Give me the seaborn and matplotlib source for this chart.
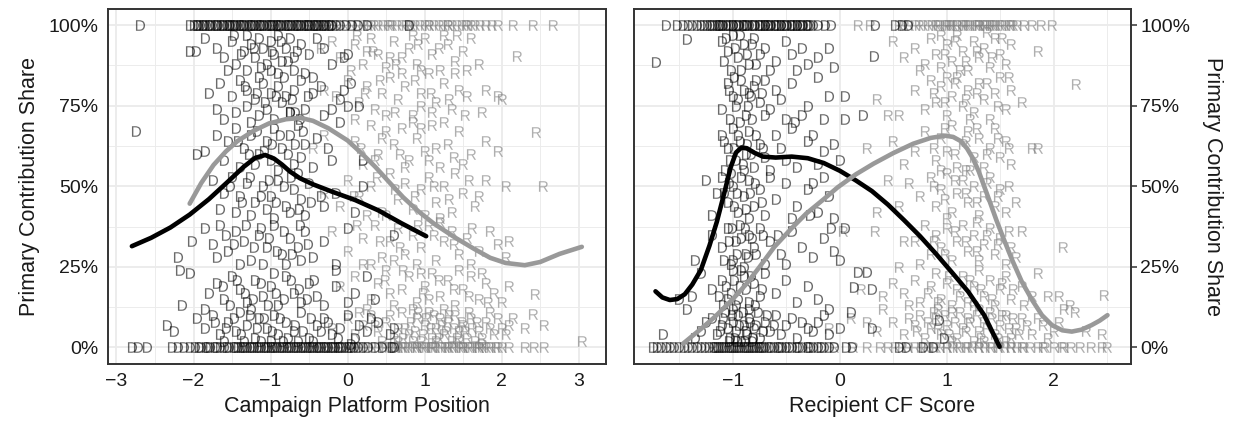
import matplotlib
matplotlib.use("Agg")
import matplotlib.pyplot as plt
import pandas as pd
import seaborn as sns
from matplotlib.ticker import PercentFormatter, MultipleLocator

sns.set_theme(style="white")
plt.rcParams["font.family"] = ["Liberation Sans", "DejaVu Sans"]
plt.rcParams["mathtext.fontset"] = "custom"
plt.rcParams["mathtext.rm"] = "Liberation Sans"

# ---------------- Campaign platform position panel ----------------
# Democrats: interior shares (x, share)
platform_dem_pts = [
    (-1.85, 0.96), (-1.7, 0.93), (-1.6, 0.90), (-1.5, 0.95), (-1.45, 0.88), (-1.35, 0.92), (-1.3, 0.97),
    (-1.25, 0.94), (-1.2, 0.90), (-1.15, 0.96), (-1.1, 0.93), (-1.05, 0.88), (-1.0, 0.95), (-0.95, 0.91),
    (-0.9, 0.97), (-0.85, 0.89), (-0.8, 0.93), (-0.75, 0.96), (-0.7, 0.90), (-0.6, 0.94), (-0.5, 0.91),
    (-0.4, 0.96), (-0.3, 0.93), (-0.2, 0.88), (-0.05, 0.90), (0.0, 0.91), (-2.05, 0.92), (-1.97, 0.92),
    (-1.55, 0.86), (-1.0, 0.86), (-0.9, 0.85), (-0.7, 0.86), (-1.3, 0.86), (-1.15, 0.84), (-0.55, 0.85),
    (-0.45, 0.84),
    (-1.8, 0.79), (-1.65, 0.82), (-1.5, 0.78), (-1.4, 0.83), (-1.3, 0.80), (-1.2, 0.77), (-1.1, 0.82),
    (-1.0, 0.79), (-0.9, 0.81), (-0.8, 0.78), (-0.7, 0.80), (-0.6, 0.83), (-0.45, 0.79), (-0.35, 0.81),
    (-0.05, 0.80), (0.05, 0.82), (-1.7, 0.74), (-1.6, 0.71), (-1.45, 0.73), (-1.3, 0.75), (-1.15, 0.72),
    (-1.05, 0.74), (-0.95, 0.71), (-0.85, 0.76), (-0.75, 0.73), (-0.55, 0.74), (-0.3, 0.72), (-0.2, 0.74),
    (0.0, 0.75), (0.15, 0.75), (-0.1, 0.77), (-1.25, 0.70),
    (-2.75, 0.67), (-1.7, 0.66), (-1.55, 0.64), (-1.45, 0.68), (-1.35, 0.62), (-1.25, 0.66), (-1.15, 0.60),
    (-1.05, 0.64), (-0.95, 0.68), (-0.85, 0.62), (-0.75, 0.66), (-0.65, 0.69), (-0.55, 0.63), (-0.4, 0.65),
    (-0.25, 0.62), (-0.1, 0.70), (-1.95, 0.60), (-1.85, 0.61), (-1.6, 0.58), (-1.4, 0.56), (-1.2, 0.57),
    (-1.0, 0.58), (-0.9, 0.55), (-0.7, 0.57), (-0.6, 0.59), (-0.45, 0.56), (-0.2, 0.58), (0.2, 0.58),
    (-0.75, 0.73), (-0.68, 0.73),
    (-1.75, 0.52), (-1.6, 0.48), (-1.5, 0.53), (-1.4, 0.47), (-1.3, 0.51), (-1.2, 0.45), (-1.1, 0.50),
    (-1.0, 0.47), (-0.9, 0.52), (-0.8, 0.44), (-0.7, 0.49), (-0.6, 0.46), (-0.5, 0.51), (-0.35, 0.47),
    (-0.15, 0.48), (0.2, 0.50), (-1.45, 0.42), (-1.25, 0.41), (-1.05, 0.43), (-0.95, 0.40), (-0.75, 0.42),
    (-0.55, 0.41), (-0.3, 0.44), (0.1, 0.42), (-1.65, 0.43), (-0.65, 0.54),
    (-2.02, 0.33), (-1.85, 0.37), (-1.75, 0.32), (-1.65, 0.38), (-1.55, 0.30), (-1.45, 0.36), (-1.35, 0.33),
    (-1.25, 0.27), (-1.15, 0.35), (-1.05, 0.31), (-0.95, 0.38), (-0.85, 0.29), (-0.75, 0.34), (-0.65, 0.31),
    (-0.55, 0.36), (-0.45, 0.28), (-0.3, 0.33), (-0.15, 0.26), (0.0, 0.37), (0.6, 0.35), (-2.2, 0.28),
    (-1.7, 0.28), (-1.1, 0.26), (-0.8, 0.26), (-0.6, 0.27), (-1.4, 0.26),
    (-2.17, 0.24), (-2.04, 0.23), (-1.8, 0.17), (-1.7, 0.20), (-1.6, 0.15), (-1.5, 0.22), (-1.4, 0.18),
    (-1.3, 0.14), (-1.2, 0.21), (-1.1, 0.16), (-1.0, 0.19), (-0.9, 0.13), (-0.8, 0.22), (-0.7, 0.17),
    (-0.6, 0.14), (-0.5, 0.20), (-0.4, 0.16), (-0.3, 0.13), (-0.15, 0.19), (0.0, 0.14), (0.25, 0.22),
    (0.35, 0.15), (-2.15, 0.13), (-1.85, 0.12), (-1.25, 0.12), (-0.95, 0.23), (-0.15, 0.24), (0.1, 0.17),
    (-2.35, 0.07), (-2.25, 0.05), (-1.95, 0.09), (-1.85, 0.06), (-1.75, 0.10), (-1.65, 0.04), (-1.55, 0.08),
    (-1.45, 0.05), (-1.4, 0.11), (-1.3, 0.07), (-1.2, 0.03), (-1.15, 0.09), (-1.05, 0.06), (-0.95, 0.10),
    (-0.9, 0.04), (-0.8, 0.08), (-0.7, 0.05), (-0.6, 0.11), (-0.5, 0.03), (-0.4, 0.07), (-0.3, 0.09),
    (-0.2, 0.04), (-0.1, 0.06), (0.0, 0.10), (0.1, 0.03), (0.25, 0.05), (0.4, 0.08), (0.55, 0.04),
    (0.6, 0.06), (-1.0, 0.02), (-0.65, 0.02), (-1.6, 0.02), (0.05, 0.01),
]
platform_dem_pts_core = [
    (-1.48, 0.97), (-1.38, 0.91), (-1.22, 0.93), (-1.12, 0.87), (-0.98, 0.92), (-0.87, 0.95), (-0.78, 0.89),
    (-0.66, 0.92), (-1.33, 0.81), (-1.18, 0.79), (-1.07, 0.76), (-0.93, 0.78), (-0.83, 0.84), (-0.72, 0.77),
    (-0.62, 0.71), (-0.52, 0.78), (-1.42, 0.64), (-1.28, 0.60), (-1.17, 0.67), (-1.08, 0.61), (-0.98, 0.63),
    (-0.88, 0.66), (-0.78, 0.60), (-0.68, 0.63), (-0.58, 0.67), (-1.52, 0.50), (-1.37, 0.45), (-1.27, 0.53),
    (-1.13, 0.47), (-1.02, 0.52), (-0.93, 0.45), (-0.83, 0.50), (-0.73, 0.53), (-0.63, 0.43), (-0.48, 0.45),
    (-1.58, 0.35), (-1.48, 0.32), (-1.32, 0.38), (-1.22, 0.31), (-1.12, 0.37), (-1.02, 0.34), (-0.92, 0.30),
    (-0.82, 0.36), (-0.72, 0.29), (-0.62, 0.38), (-0.52, 0.32), (-1.62, 0.19), (-1.52, 0.13), (-1.43, 0.21),
    (-1.33, 0.17), (-1.23, 0.15), (-1.13, 0.20), (-1.03, 0.13), (-0.93, 0.17), (-0.83, 0.15), (-0.73, 0.21),
    (-0.63, 0.18), (-0.53, 0.15), (-0.43, 0.21), (-1.72, 0.08), (-1.58, 0.06), (-1.48, 0.09), (-1.38, 0.04),
    (-1.27, 0.10), (-1.18, 0.06), (-1.08, 0.09), (-0.98, 0.05), (-0.88, 0.09), (-0.78, 0.03), (-0.68, 0.07),
    (-0.58, 0.05), (-0.48, 0.09), (-0.35, 0.05), (-0.25, 0.08), (-0.12, 0.03), (0.15, 0.07), (0.3, 0.09),
    (-1.12, 0.02), (-0.84, 0.02), (-1.35, 0.02), (-0.45, 0.02),
]
# Democrats with all-primary (100%) and no-primary (0%) shares
platform_dem_full = [-2.7, -2.05, -2.0, -1.96, -1.92, -1.88, -1.84, -1.8, -1.76, -1.72, -1.68, -1.64, -1.6,
                     -1.56, -1.52, -1.48, -1.44, -1.4, -1.36, -1.32, -1.28, -1.24, -1.2, -1.16, -1.12, -1.08,
                     -1.04, -1.0, -0.96, -0.92, -0.88, -0.84, -0.8, -0.76, -0.72, -0.68, -0.64, -0.6, -0.56,
                     -0.52, -0.48, -0.44, -0.4, -0.36, -0.32, -0.28, -0.24, -0.2, -0.15, -0.1, -0.02, 0.06,
                     0.14, 0.25, 0.8, -1.5, -1.38, -1.26, -1.14, -1.02, -0.9, -0.78, -0.66, -0.54, -0.42,
                     -1.94, -1.86, -1.78, -1.7, -1.62, -1.54, -1.46, -1.34, -1.22, -1.1, -0.98, -0.86, -0.74,
                     -0.62, -0.5, -0.38, -0.3, -0.22]
platform_dem_none = [-2.8, -2.72, -2.6, -2.28, -2.2, -2.12, -2.05, -1.98, -1.9, -1.84, -1.78, -1.72, -1.66,
                     -1.6, -1.54, -1.48, -1.42, -1.36, -1.3, -1.24, -1.18, -1.12, -1.06, -1.0, -0.94, -0.88,
                     -0.82, -0.76, -0.7, -0.64, -0.58, -0.52, -0.46, -0.4, -0.34, -0.28, -0.22, -0.16, -0.1,
                     -0.04, 0.02, 0.08, 0.14, 0.2, 0.27, 0.35, 0.45, 0.6, 0.58, -1.45, -1.33, -1.21, -1.09,
                     -0.97, -0.85, -0.73, -0.61, -0.49, -0.37, -0.25, -0.13, -1.93, -1.81, -1.69, -1.57,
                     -1.39, -1.27, -1.15, -1.03, -0.91, -0.79, -0.67, -0.55, -0.43, -0.31, -0.19, -0.07, 0.05]

# Republicans: interior shares (x, share)
platform_rep_pts = [
    (-0.35, 0.93), (-0.2, 0.95), (-0.1, 0.90), (0.1, 0.94), (0.2, 0.88), (0.3, 0.96), (0.4, 0.91),
    (0.5, 0.87), (0.6, 0.95), (0.7, 0.90), (0.8, 0.93), (0.9, 0.88), (1.0, 0.96), (1.1, 0.91), (1.2, 0.86),
    (1.3, 0.94), (1.4, 0.89), (1.5, 0.92), (1.6, 0.96), (1.7, 0.88), (0.25, 0.92), (0.55, 0.90),
    (0.95, 0.86), (1.25, 0.97), (2.2, 0.905), (1.55, 0.86), (0.05, 0.86), (0.85, 0.97),
    (-0.3, 0.80), (-0.15, 0.78), (0.0, 0.83), (0.15, 0.76), (0.25, 0.81), (0.35, 0.74), (0.45, 0.79),
    (0.55, 0.84), (0.65, 0.77), (0.75, 0.81), (0.85, 0.72), (0.95, 0.79), (1.05, 0.85), (1.15, 0.76),
    (1.25, 0.82), (1.35, 0.74), (1.45, 0.80), (1.55, 0.78), (1.75, 0.73), (1.95, 0.78), (2.0, 0.77),
    (1.8, 0.80), (0.1, 0.71), (0.5, 0.72), (1.1, 0.73), (0.7, 0.85), (1.4, 0.85), (0.95, 0.75),
    (-0.45, 0.62), (-0.3, 0.66), (0.1, 0.64), (0.3, 0.69), (0.4, 0.60), (0.5, 0.67), (0.6, 0.63),
    (0.7, 0.68), (0.8, 0.58), (0.9, 0.65), (1.0, 0.61), (1.1, 0.69), (1.2, 0.56), (1.3, 0.63), (1.45, 0.67),
    (1.6, 0.60), (1.8, 0.64), (2.45, 0.667), (1.95, 0.61), (0.2, 0.57), (0.75, 0.56), (1.05, 0.58),
    (1.5, 0.57), (0.85, 0.70), (1.25, 0.70), (0.35, 0.58),
    (-0.3, 0.48), (-0.1, 0.44), (0.0, 0.52), (0.15, 0.47), (0.3, 0.50), (0.45, 0.42), (0.55, 0.54),
    (0.65, 0.46), (0.75, 0.51), (0.85, 0.43), (0.95, 0.49), (1.05, 0.53), (1.15, 0.45), (1.25, 0.50),
    (1.35, 0.42), (1.5, 0.48), (1.65, 0.44), (1.8, 0.52), (2.05, 0.50), (2.53, 0.50), (1.7, 0.47),
    (0.5, 0.41), (1.0, 0.41), (1.4, 0.54), (0.25, 0.41), (1.2, 0.40),
    (-0.2, 0.36), (0.0, 0.30), (0.2, 0.34), (0.35, 0.38), (0.45, 0.28), (0.55, 0.33), (0.65, 0.37),
    (0.75, 0.29), (0.85, 0.35), (0.95, 0.31), (1.05, 0.38), (1.15, 0.27), (1.25, 0.33), (1.35, 0.36),
    (1.45, 0.29), (1.55, 0.34), (1.7, 0.30), (1.85, 0.36), (1.95, 0.32), (2.05, 0.28), (2.1, 0.33),
    (1.6, 0.26), (0.3, 0.26), (0.9, 0.26), (1.2, 0.39), (0.6, 0.27),
    (-0.1, 0.19), (0.1, 0.22), (0.3, 0.15), (0.4, 0.20), (0.5, 0.24), (0.6, 0.13), (0.7, 0.18), (0.8, 0.22),
    (0.9, 0.14), (1.0, 0.19), (1.1, 0.23), (1.2, 0.16), (1.3, 0.21), (1.4, 0.13), (1.5, 0.18), (1.6, 0.22),
    (1.7, 0.15), (1.8, 0.20), (1.9, 0.17), (2.0, 0.14), (2.1, 0.19), (2.43, 0.167), (2.4, 0.105),
    (0.55, 0.17), (1.05, 0.15), (1.45, 0.24), (0.25, 0.12), (1.75, 0.23), (0.95, 0.23),
    (-0.2, 0.06), (0.0, 0.09), (0.1, 0.04), (0.2, 0.07), (0.3, 0.10), (0.4, 0.05), (0.5, 0.08), (0.6, 0.03),
    (0.7, 0.11), (0.75, 0.06), (0.8, 0.04), (0.9, 0.09), (0.95, 0.02), (1.0, 0.07), (1.05, 0.11),
    (1.1, 0.03), (1.15, 0.06), (1.2, 0.09), (1.25, 0.04), (1.3, 0.08), (1.35, 0.02), (1.4, 0.10),
    (1.45, 0.05), (1.5, 0.07), (1.55, 0.03), (1.6, 0.09), (1.7, 0.05), (1.8, 0.08), (1.9, 0.04), (2.0, 0.06),
    (2.15, 0.09), (2.3, 0.06), (2.55, 0.07), (3.04, 0.02), (0.85, 0.12), (1.25, 0.12), (0.65, 0.02),
    (1.65, 0.02), (1.85, 0.11),
]
platform_rep_pts_core = [
    (0.12, 0.97), (0.33, 0.92), (0.63, 0.88), (0.92, 0.94), (1.18, 0.93), (1.42, 0.97), (0.22, 0.79),
    (0.42, 0.83), (0.62, 0.73), (0.88, 0.83), (1.08, 0.79), (1.32, 0.77), (1.52, 0.72), (0.18, 0.62),
    (0.45, 0.65), (0.68, 0.60), (0.95, 0.68), (1.15, 0.62), (1.38, 0.59), (0.08, 0.47), (0.38, 0.53),
    (0.62, 0.49), (0.88, 0.47), (1.12, 0.50), (1.32, 0.46), (1.58, 0.52), (0.12, 0.38), (0.42, 0.33),
    (0.68, 0.31), (0.92, 0.38), (1.12, 0.35), (1.38, 0.32), (1.62, 0.37), (0.2, 0.26), (0.48, 0.21),
    (0.72, 0.24), (0.98, 0.17), (1.18, 0.21), (1.38, 0.18), (1.58, 0.16), (1.82, 0.14), (0.15, 0.11),
    (0.35, 0.07), (0.55, 0.10), (0.65, 0.06), (0.72, 0.03), (0.82, 0.08), (0.88, 0.05), (0.92, 0.11),
    (0.98, 0.04), (1.02, 0.09), (1.08, 0.06), (1.12, 0.10), (1.18, 0.03), (1.22, 0.07), (1.28, 0.05),
    (1.32, 0.10), (1.38, 0.06), (1.42, 0.03), (1.48, 0.08), (1.52, 0.05), (1.58, 0.11), (1.62, 0.06),
    (1.68, 0.08), (1.75, 0.03), (1.85, 0.06), (1.95, 0.09), (2.05, 0.04), (2.1, 0.07), (0.45, 0.02),
    (0.85, 0.02), (1.15, 0.02), (1.45, 0.02), (1.75, 0.01),
]
platform_rep_full = [-0.97, -0.5, -0.35, -0.25, -0.15, -0.05, 0.05, 0.12, 0.2, 0.27, 0.34, 0.4, 0.46, 0.52,
                     0.58, 0.64, 0.7, 0.76, 0.82, 0.88, 0.94, 1.0, 1.06, 1.12, 1.18, 1.24, 1.3, 1.36, 1.42,
                     1.48, 1.54, 1.6, 1.66, 1.72, 1.8, 1.88, 1.95, 2.15, 2.4, 2.66, 0.3, 0.55, 0.8, 1.05,
                     1.3, 1.55]
platform_rep_none = [-1.0, -0.8, -0.62, -0.45, -0.32, -0.2, -0.1, 0.0, 0.08, 0.16, 0.24, 0.32, 0.4, 0.47,
                     0.54, 0.6, 0.66, 0.72, 0.78, 0.84, 0.9, 0.96, 1.02, 1.08, 1.14, 1.2, 1.26, 1.32, 1.38,
                     1.44, 1.5, 1.56, 1.62, 1.68, 1.74, 1.8, 1.86, 1.92, 2.0, 2.1, 2.3, 2.42, 2.55, 0.7, 0.9,
                     1.1, 1.3, 1.5, 1.7, 0.5, 0.63, 0.75, 0.87, 0.99, 1.11, 1.23, 1.35, 1.47, 1.59, 1.71,
                     1.83, 1.95]

# Smoothed fits
platform_dem_fit_x = [-2.8, -2.55, -2.3, -2.05, -1.8, -1.55, -1.35, -1.2, -1.07, -0.95, -0.85, -0.75,
                      -0.62, -0.45, -0.2, 0.1, 0.4, 0.7, 1.02]
platform_dem_fit_y = [0.314, 0.34, 0.372, 0.412, 0.46, 0.515, 0.56, 0.588, 0.597, 0.585, 0.567, 0.546,
                      0.525, 0.506, 0.483, 0.457, 0.425, 0.385, 0.345]
platform_rep_fit_x = [-2.05, -1.9, -1.74, -1.58, -1.43, -1.22, -1.02, -0.8, -0.61, -0.45, -0.25, 0.0, 0.2,
                      0.36, 0.55, 0.72, 0.92, 1.12, 1.4, 1.64, 1.85, 2.05, 2.3, 2.5, 2.75, 3.04]
platform_rep_fit_y = [0.446, 0.51, 0.566, 0.608, 0.64, 0.672, 0.695, 0.708, 0.712, 0.703, 0.68, 0.642,
                      0.598, 0.56, 0.51, 0.466, 0.422, 0.384, 0.34, 0.306, 0.278, 0.262, 0.255, 0.265,
                      0.29, 0.312]

# ---------------- Recipient CF score panel ----------------
cf_dem_pts = [
    (-1.72, 0.884), (-1.43, 0.957), (-1.1, 0.95), (-1.05, 0.92), (-1.0, 0.97), (-0.95, 0.90), (-0.9, 0.94),
    (-0.85, 0.88), (-0.8, 0.96), (-0.75, 0.91), (-0.7, 0.93), (-0.6, 0.89), (-0.5, 0.95), (-0.45, 0.91),
    (-0.35, 0.93), (-0.3, 0.88), (-0.2, 0.90), (-0.1, 0.93), (-0.05, 0.87), (0.32, 0.905), (-1.02, 0.86),
    (-0.92, 0.86), (-0.65, 0.86), (-0.4, 0.86), (-1.08, 0.89),
    (-1.05, 0.82), (-1.0, 0.78), (-0.97, 0.75), (-0.92, 0.83), (-0.88, 0.72), (-0.85, 0.79), (-0.8, 0.81),
    (-0.75, 0.76), (-0.7, 0.83), (-0.65, 0.74), (-0.6, 0.80), (-0.55, 0.77), (-0.45, 0.82), (-0.3, 0.75),
    (-0.1, 0.78), (0.05, 0.78), (-0.2, 0.84), (-1.1, 0.74), (-0.93, 0.70), (-0.82, 0.71), (-0.7, 0.72),
    (-0.5, 0.71), (-0.35, 0.72), (-0.15, 0.71), (0.05, 0.71), (0.22, 0.72), (-1.03, 0.71),
    (-1.1, 0.66), (-1.05, 0.62), (-1.0, 0.68), (-0.97, 0.58), (-0.93, 0.64), (-0.88, 0.60), (-0.85, 0.67),
    (-0.8, 0.56), (-0.75, 0.63), (-0.7, 0.59), (-0.6, 0.66), (-0.55, 0.62), (-0.45, 0.68), (-0.3, 0.64),
    (-0.2, 0.57), (-0.05, 0.63), (0.0, 0.58), (-1.07, 0.55), (-0.9, 0.55), (-0.65, 0.55), (-0.4, 0.56),
    (-0.15, 0.61), (-0.25, 0.66), (-0.5, 0.58),
    (-1.25, 0.52), (-1.15, 0.48), (-1.1, 0.53), (-1.05, 0.45), (-1.0, 0.50), (-0.95, 0.42), (-0.9, 0.47),
    (-0.85, 0.52), (-0.8, 0.44), (-0.75, 0.49), (-0.7, 0.41), (-0.6, 0.46), (-0.5, 0.51), (-0.4, 0.44),
    (-0.3, 0.49), (-0.2, 0.42), (-0.1, 0.47), (-0.05, 0.40), (-1.2, 0.41), (-0.85, 0.40), (-0.65, 0.53),
    (-0.45, 0.40), (-1.02, 0.54),
    (-1.2, 0.35), (-1.1, 0.31), (-1.05, 0.37), (-1.0, 0.27), (-0.97, 0.33), (-0.93, 0.38), (-0.88, 0.29),
    (-0.85, 0.35), (-0.8, 0.31), (-0.75, 0.37), (-0.7, 0.26), (-0.65, 0.33), (-0.55, 0.29), (-0.45, 0.36),
    (-0.35, 0.31), (-0.25, 0.28), (-0.15, 0.34), (-0.05, 0.30), (-0.08, 0.37), (-1.35, 0.27), (-1.02, 0.26),
    (-0.9, 0.25),
    (-1.3, 0.23), (-1.2, 0.18), (-1.1, 0.21), (-1.05, 0.15), (-1.0, 0.24), (-0.97, 0.13), (-0.93, 0.19),
    (-0.9, 0.22), (-0.85, 0.14), (-0.8, 0.20), (-0.75, 0.16), (-0.7, 0.23), (-0.6, 0.17), (-0.5, 0.21),
    (-0.4, 0.14), (-0.3, 0.19), (-0.2, 0.15), (-0.1, 0.12), (0.13, 0.188), (0.17, 0.234), (0.25, 0.234),
    (0.3, 0.18), (-1.43, 0.12), (-1.5, 0.15), (-1.38, 0.16),
    (-1.65, 0.043), (-1.3, 0.05), (-1.2, 0.09), (-1.15, 0.04), (-1.1, 0.07), (-1.07, 0.11), (-1.03, 0.03),
    (-1.0, 0.08), (-0.97, 0.05), (-0.95, 0.10), (-0.92, 0.02), (-0.9, 0.07), (-0.87, 0.04), (-0.85, 0.09),
    (-0.8, 0.06), (-0.77, 0.11), (-0.75, 0.03), (-0.7, 0.08), (-0.65, 0.05), (-0.6, 0.10), (-0.55, 0.04),
    (-0.5, 0.07), (-0.45, 0.09), (-0.4, 0.03), (-0.3, 0.06), (-0.2, 0.08), (-0.1, 0.04), (0.0, 0.06),
    (0.1, 0.11), (0.3, 0.059), (0.93, 0.085), (0.97, 0.03), (-1.0, 0.12), (-0.85, 0.12),
]
cf_dem_pts_core = [
    (-1.06, 0.96), (-0.98, 0.93), (-0.93, 0.97), (-0.87, 0.91), (-0.82, 0.94), (-0.78, 0.88), (-1.04, 0.80),
    (-0.99, 0.84), (-0.95, 0.77), (-0.9, 0.80), (-0.86, 0.75), (-0.83, 0.78), (-0.78, 0.83), (-0.73, 0.79),
    (-1.08, 0.64), (-1.03, 0.58), (-0.99, 0.62), (-0.95, 0.66), (-0.91, 0.57), (-0.87, 0.63), (-0.83, 0.60),
    (-0.78, 0.66), (-0.72, 0.62), (-1.08, 0.48), (-1.04, 0.51), (-0.99, 0.44), (-0.96, 0.48), (-0.92, 0.53),
    (-0.88, 0.43), (-0.84, 0.48), (-0.79, 0.51), (-0.73, 0.45), (-1.08, 0.27), (-1.04, 0.33), (-1.01, 0.37),
    (-0.96, 0.29), (-0.92, 0.34), (-0.89, 0.37), (-0.86, 0.28), (-0.82, 0.34), (-0.78, 0.29), (-0.72, 0.35),
    (-1.13, 0.16), (-1.09, 0.13), (-1.06, 0.19), (-1.02, 0.17), (-0.99, 0.21), (-0.95, 0.15), (-0.92, 0.24),
    (-0.88, 0.18), (-0.83, 0.22), (-0.79, 0.13), (-0.73, 0.18), (-1.12, 0.05), (-1.09, 0.09), (-1.05, 0.06),
    (-1.01, 0.10), (-0.98, 0.03), (-0.94, 0.07), (-0.91, 0.11), (-0.88, 0.05), (-0.84, 0.08), (-0.81, 0.03),
    (-0.78, 0.07), (-0.72, 0.05), (-0.68, 0.10), (-0.62, 0.07), (-0.35, 0.08), (-0.25, 0.05), (-0.15, 0.10),
    (-1.04, 0.02), (-0.96, 0.02), (-0.89, 0.02), (-0.82, 0.02), (-1.25, 0.08), (-1.35, 0.03), (-0.58, 0.35),
    (-0.5, 0.26), (-0.42, 0.7), (-0.25, 0.51), (-0.15, 0.53), (-0.28, 0.41), (0.05, 0.37), (0.0, 0.27),
]
cf_dem_full = [-1.63, -1.52, -1.47, -1.42, -1.38, -1.34, -1.3, -1.27, -1.24, -1.21, -1.18, -1.15, -1.12, -1.09,
               -1.06, -1.03, -1.0, -0.97, -0.94, -0.91, -0.88, -0.85, -0.82, -0.79, -0.76, -0.73, -0.7, -0.67,
               -0.64, -0.61, -0.58, -0.55, -0.52, -0.49, -0.46, -0.43, -0.4, -0.37, -0.34, -0.31, -0.28,
               -0.25, -0.2, -0.14, -0.08, 0.33, 0.52, 0.58, 0.64, -1.1, -1.0, -0.9, -0.8, -0.7, -0.6, -0.5,
               -0.4, -0.3, -1.2, -1.13, -1.05, -0.95, -0.87, -0.75, -0.65, -0.55, -0.45, -0.35]
cf_dem_none = [-1.75, -1.71, -1.67, -1.63, -1.59, -1.55, -1.5, -1.46, -1.42, -1.38, -1.34, -1.3, -1.26, -1.22,
               -1.18, -1.14, -1.1, -1.06, -1.02, -0.98, -0.94, -0.9, -0.86, -0.82, -0.78, -0.74, -0.7, -0.66,
               -0.62, -0.58, -0.54, -0.5, -0.45, -0.4, -0.35, -0.3, -0.25, -0.2, -0.15, -0.1, -0.05, 0.06,
               0.11, 0.55, 0.62, 0.78, 0.87, -1.08, -1.0, -0.92, -0.84, -0.76, -1.16, -1.12, -1.04, -0.96,
               -0.88, -0.8, -0.72, -0.64, -0.56, -0.48, -0.38, -0.28, -0.18]

cf_rep_pts = [
    (0.5, 0.95), (0.6, 0.90), (0.7, 0.93), (0.8, 0.88), (0.85, 0.96), (0.9, 0.91), (0.95, 0.87), (1.0, 0.94),
    (1.05, 0.89), (1.1, 0.97), (1.15, 0.92), (1.2, 0.86), (1.25, 0.95), (1.3, 0.90), (1.35, 0.93),
    (1.4, 0.87), (1.45, 0.96), (1.5, 0.91), (1.55, 0.88), (1.6, 0.94), (1.85, 0.92), (0.75, 0.86),
    (1.12, 0.86), (1.38, 0.98), (0.95, 0.97),
    (0.35, 0.77), (0.55, 0.72), (0.7, 0.80), (0.8, 0.74), (0.85, 0.83), (0.9, 0.76), (0.95, 0.81),
    (1.0, 0.72), (1.05, 0.78), (1.1, 0.84), (1.15, 0.75), (1.2, 0.80), (1.25, 0.73), (1.3, 0.82),
    (1.35, 0.77), (1.4, 0.71), (1.45, 0.79), (1.5, 0.84), (1.55, 0.74), (1.6, 0.80), (1.7, 0.76),
    (2.21, 0.817), (0.45, 0.72), (1.0, 0.84), (1.22, 0.71),
    (0.25, 0.62), (0.5, 0.64), (0.7, 0.61), (0.8, 0.67), (0.9, 0.58), (0.95, 0.65), (1.0, 0.61), (1.05, 0.69),
    (1.1, 0.56), (1.15, 0.63), (1.2, 0.67), (1.25, 0.59), (1.3, 0.65), (1.35, 0.56), (1.4, 0.62),
    (1.45, 0.68), (1.5, 0.59), (1.55, 0.64), (1.6, 0.57), (1.8, 0.62), (1.85, 0.62), (0.95, 0.55),
    (1.18, 0.55), (0.6, 0.57),
    (0.45, 0.52), (0.65, 0.51), (0.75, 0.47), (0.85, 0.53), (0.9, 0.44), (0.95, 0.49), (1.0, 0.54),
    (1.05, 0.42), (1.1, 0.48), (1.15, 0.52), (1.2, 0.45), (1.25, 0.50), (1.3, 0.41), (1.35, 0.47),
    (1.4, 0.53), (1.45, 0.44), (1.5, 0.49), (1.55, 0.42), (1.65, 0.45), (0.35, 0.42), (0.55, 0.44),
    (1.22, 0.55), (1.0, 0.40),
    (0.03, 0.36), (0.33, 0.36), (0.7, 0.33), (0.8, 0.38), (0.85, 0.29), (0.9, 0.35), (0.95, 0.31),
    (1.0, 0.37), (1.05, 0.27), (1.1, 0.33), (1.15, 0.38), (1.2, 0.30), (1.25, 0.35), (1.3, 0.27),
    (1.35, 0.32), (1.4, 0.37), (1.45, 0.29), (1.5, 0.34), (1.55, 0.26), (1.6, 0.31), (1.7, 0.36),
    (2.09, 0.31), (1.85, 0.23), (0.75, 0.26), (1.28, 0.39),
    (0.2, 0.18), (0.4, 0.16), (0.5, 0.20), (0.6, 0.17), (0.7, 0.21), (0.75, 0.14), (0.85, 0.19), (0.9, 0.23),
    (0.95, 0.15), (1.0, 0.20), (1.05, 0.13), (1.1, 0.18), (1.15, 0.22), (1.2, 0.14), (1.25, 0.19),
    (1.3, 0.24), (1.35, 0.16), (1.4, 0.21), (1.45, 0.13), (1.5, 0.18), (1.55, 0.22), (1.6, 0.15),
    (1.7, 0.19), (1.8, 0.16), (1.95, 0.16), (2.05, 0.16), (2.47, 0.162), (2.15, 0.13), (0.65, 0.13),
    (1.25, 0.13),
    (-0.1, 0.06), (0.1, 0.09), (0.35, 0.05), (0.5, 0.08), (0.6, 0.04), (0.7, 0.07), (0.75, 0.10), (0.8, 0.03),
    (0.85, 0.06), (0.9, 0.09), (0.95, 0.04), (1.0, 0.07), (1.05, 0.11), (1.1, 0.03), (1.15, 0.06),
    (1.2, 0.09), (1.25, 0.02), (1.3, 0.05), (1.35, 0.08), (1.4, 0.11), (1.45, 0.04), (1.5, 0.07),
    (1.55, 0.10), (1.6, 0.03), (1.65, 0.06), (1.7, 0.09), (1.8, 0.04), (1.9, 0.07), (2.0, 0.05),
    (2.1, 0.12), (2.2, 0.11), (2.3, 0.05), (2.45, 0.04), (1.3, 0.12), (0.92, 0.12),
]
cf_rep_pts_core = [
    (0.98, 0.91), (1.08, 0.95), (1.18, 0.89), (1.28, 0.92), (1.42, 0.90), (1.52, 0.96), (0.88, 0.79),
    (0.98, 0.76), (1.08, 0.82), (1.18, 0.77), (1.28, 0.79), (1.38, 0.82), (1.48, 0.75), (1.58, 0.84),
    (0.88, 0.62), (0.98, 0.68), (1.08, 0.60), (1.18, 0.64), (1.28, 0.68), (1.38, 0.60), (1.48, 0.65),
    (1.58, 0.62), (0.88, 0.50), (0.98, 0.46), (1.08, 0.52), (1.18, 0.48), (1.28, 0.45), (1.38, 0.51),
    (1.48, 0.47), (1.58, 0.50), (0.88, 0.33), (0.98, 0.29), (1.08, 0.36), (1.18, 0.33), (1.28, 0.30),
    (1.38, 0.35), (1.48, 0.32), (1.58, 0.36), (1.65, 0.28), (0.82, 0.17), (0.92, 0.14), (1.02, 0.22),
    (1.12, 0.16), (1.22, 0.21), (1.32, 0.18), (1.42, 0.15), (1.52, 0.20), (1.62, 0.18), (1.72, 0.13),
    (0.65, 0.09), (0.72, 0.05), (0.82, 0.08), (0.88, 0.11), (0.92, 0.06), (0.98, 0.10), (1.02, 0.04),
    (1.08, 0.08), (1.12, 0.11), (1.18, 0.05), (1.22, 0.08), (1.28, 0.10), (1.32, 0.03), (1.38, 0.06),
    (1.42, 0.09), (1.48, 0.03), (1.52, 0.10), (1.58, 0.06), (1.62, 0.09), (1.68, 0.04), (1.75, 0.07),
    (1.85, 0.09), (1.95, 0.03), (2.05, 0.08), (1.05, 0.02), (1.35, 0.02), (1.55, 0.02), (0.4, 0.12),
    (0.25, 0.08), (0.55, 0.25), (0.6, 0.33),
]
cf_rep_full = [-0.68, 0.17, 0.28, 0.55, 0.6, 0.65, 0.7, 0.74, 0.78, 0.82, 0.86, 0.9, 0.94, 0.98, 1.02, 1.06,
               1.1, 1.14, 1.18, 1.22, 1.26, 1.3, 1.34, 1.38, 1.42, 1.46, 1.5, 1.54, 1.58, 1.62, 1.66, 1.72,
               1.8, 1.88, 1.98, 1.0, 1.1, 1.2, 1.3, 1.4, 0.92, 1.04, 1.16, 1.28, 1.36, 1.44, 1.52, 1.6]
cf_rep_none = [-1.2, -0.75, -0.3, -0.05, 0.12, 0.25, 0.38, 0.45, 0.52, 0.58, 0.64, 0.7, 0.76, 0.82, 0.88, 0.94,
               1.0, 1.06, 1.12, 1.18, 1.24, 1.3, 1.36, 1.42, 1.48, 1.54, 1.6, 1.66, 1.72, 1.78, 1.85, 1.92,
               2.0, 2.08, 2.16, 2.25, 2.35, 2.45, 2.5, 1.0, 1.2, 1.4, 1.6, 0.8, 0.9, 1.1, 1.3, 1.5, 1.7,
               1.9, 2.1]

cf_dem_fit_x = [-1.724, -1.66, -1.59, -1.52, -1.45, -1.38, -1.3, -1.22, -1.15, -1.08, -1.02, -0.97, -0.92,
                -0.87, -0.8, -0.72, -0.6, -0.45, -0.3, -0.15, 0.0, 0.15, 0.3, 0.45, 0.6, 0.75, 0.9, 1.05,
                1.2, 1.35, 1.494]
cf_dem_fit_y = [0.174, 0.155, 0.147, 0.15, 0.165, 0.195, 0.24, 0.315, 0.39, 0.48, 0.56, 0.605, 0.62, 0.618,
                0.604, 0.592, 0.589, 0.592, 0.587, 0.572, 0.548, 0.518, 0.485, 0.443, 0.395, 0.345, 0.29,
                0.232, 0.173, 0.1, 0.002]
cf_rep_fit_x = [-1.465, -1.3, -1.168, -1.0, -0.871, -0.75, -0.612, -0.45, -0.315, -0.15, -0.019, 0.15,
                0.315, 0.5, 0.686, 0.85, 0.983, 1.06, 1.131, 1.19, 1.242, 1.3, 1.353, 1.41, 1.465, 1.54,
                1.613, 1.7, 1.798, 1.89, 1.984, 2.08, 2.169, 2.26, 2.354, 2.43, 2.503]
cf_rep_fit_y = [0.012, 0.057, 0.095, 0.15, 0.198, 0.25, 0.312, 0.37, 0.415, 0.46, 0.497, 0.537, 0.57, 0.603,
                0.632, 0.65, 0.657, 0.653, 0.64, 0.617, 0.588, 0.545, 0.497, 0.445, 0.394, 0.33, 0.27,
                0.205, 0.147, 0.1, 0.069, 0.053, 0.049, 0.055, 0.069, 0.083, 0.1]

DEM_COLOR = "#000000"
REP_COLOR = "#7f7f7f"
DEM_LINE = "#000000"
REP_LINE = "#999999"
TEXT_COLOR = "#1a1a1a"
FRAME_COLOR = "#333333"
GRID_COLOR = "#ebebeb"


def party_frame(points, full_x, none_x):
    xs = [p[0] for p in points] + list(full_x) + list(none_x)
    ys = [p[1] for p in points] + [1.0] * len(full_x) + [0.0] * len(none_x)
    return pd.DataFrame({"x": xs, "share": ys})


def draw_panel(ax, dem, rep, dem_fit, rep_fit, xlim, xlabel):
    sns.scatterplot(data=rep, x="x", y="share", marker=r"$\mathrm{R}$", color=REP_COLOR,
                    alpha=0.62, s=58, linewidth=0, ax=ax, zorder=2)
    sns.scatterplot(data=dem, x="x", y="share", marker=r"$\mathrm{D}$", color=DEM_COLOR,
                    alpha=0.58, s=58, linewidth=0, ax=ax, zorder=3)
    sns.lineplot(x=dem_fit[0], y=dem_fit[1], color=DEM_LINE, linewidth=3.3, ax=ax,
                 estimator=None, sort=True, zorder=4)
    sns.lineplot(x=rep_fit[0], y=rep_fit[1], color=REP_LINE, linewidth=3.3, ax=ax,
                 estimator=None, sort=True, zorder=5)
    ax.set_xlim(*xlim)
    ax.set_ylim(-0.05, 1.05)
    ax.xaxis.set_major_locator(MultipleLocator(1))
    ax.xaxis.set_minor_locator(MultipleLocator(0.5))
    ax.yaxis.set_major_locator(MultipleLocator(0.25))
    ax.yaxis.set_minor_locator(MultipleLocator(0.125))
    ax.yaxis.set_major_formatter(PercentFormatter(1.0, decimals=0))
    ax.grid(which="major", color=GRID_COLOR, linewidth=1.3, zorder=0)
    ax.grid(which="minor", color=GRID_COLOR, linewidth=0.65, zorder=0)
    ax.set_axisbelow(True)
    for sp in ax.spines.values():
        sp.set_color(FRAME_COLOR)
        sp.set_linewidth(1.4)
    ax.tick_params(which="major", length=4.5, width=1.1, color=FRAME_COLOR,
                   labelsize=14, labelcolor=TEXT_COLOR, pad=2.5)
    ax.tick_params(which="minor", length=0)
    ax.set_xlabel(xlabel, fontsize=15.5, color=TEXT_COLOR, labelpad=4)


fig = plt.figure(figsize=(12.37, 4.29), dpi=100)
ax1 = fig.add_axes([108 / 1237, 1 - 363.5 / 429, (605.7 - 108) / 1237, (363.5 - 9) / 429])
ax2 = fig.add_axes([634 / 1237, 1 - 363.5 / 429, (1130.7 - 634) / 1237, (363.5 - 9) / 429])

draw_panel(ax1,
           party_frame(platform_dem_pts + platform_dem_pts_core, platform_dem_full, platform_dem_none),
           party_frame(platform_rep_pts + platform_rep_pts_core, platform_rep_full, platform_rep_none),
           (platform_dem_fit_x, platform_dem_fit_y), (platform_rep_fit_x, platform_rep_fit_y),
           (-3.11, 3.35), "Campaign Platform Position")
ax1.set_ylabel("Primary Contribution Share", fontsize=15.5, color=TEXT_COLOR, labelpad=6)

draw_panel(ax2,
           party_frame(cf_dem_pts + cf_dem_pts_core, cf_dem_full, cf_dem_none),
           party_frame(cf_rep_pts + cf_rep_pts_core, cf_rep_full, cf_rep_none),
           (cf_dem_fit_x, cf_dem_fit_y), (cf_rep_fit_x, cf_rep_fit_y),
           (-1.925, 2.72), "Recipient CF Score")
ax2.yaxis.tick_right()
ax2.yaxis.set_label_position("right")
ax2.set_ylabel("Primary Contribution Share", fontsize=15.5, color=TEXT_COLOR,
               rotation=270, va="bottom", labelpad=8)

fig.savefig("out.png", dpi=100)
